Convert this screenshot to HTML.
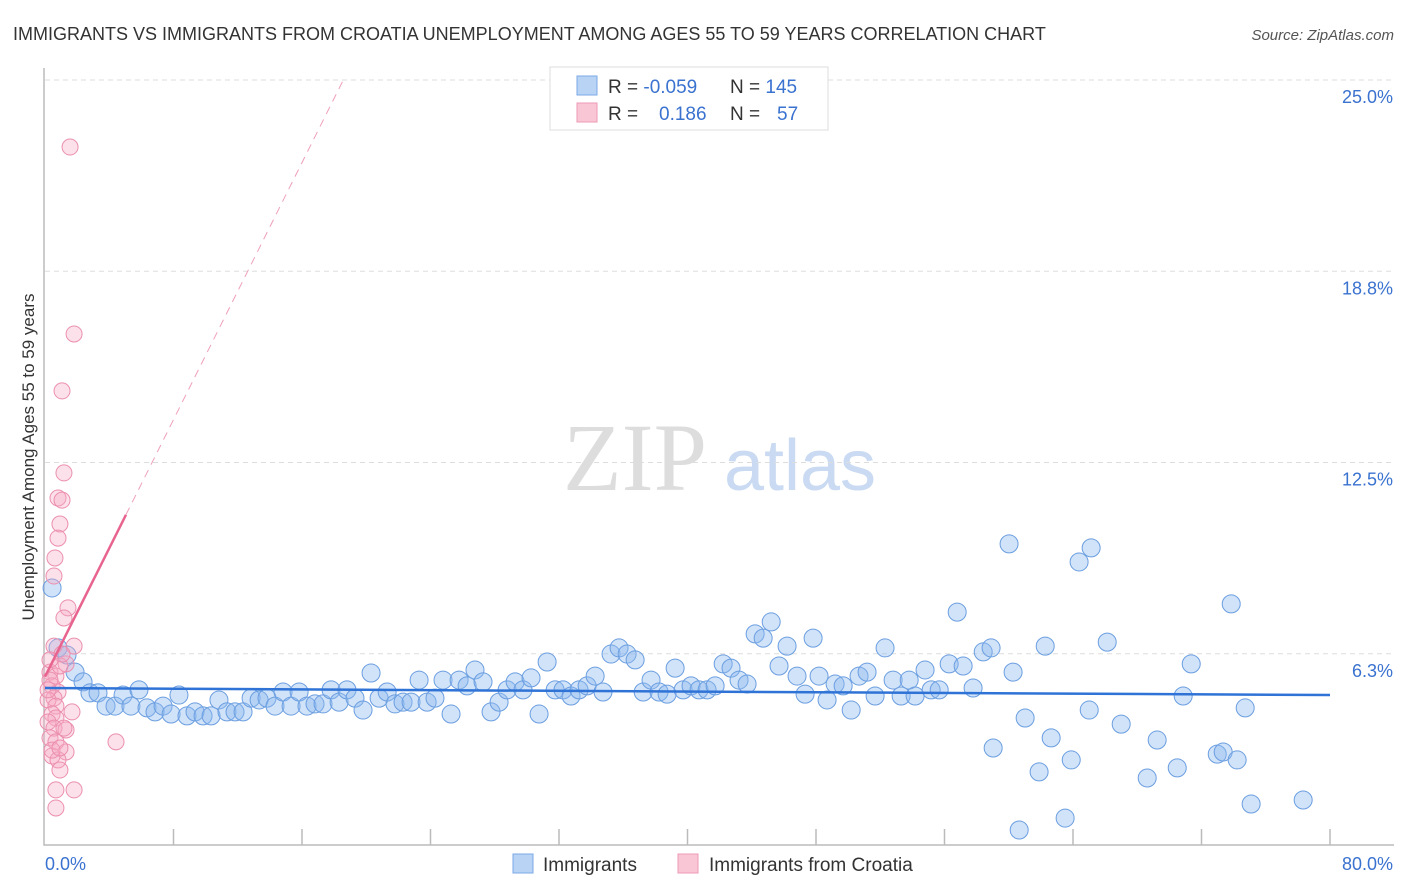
<!DOCTYPE html>
<html><head><meta charset="utf-8"><style>
body{margin:0;background:#fff;font-family:"Liberation Sans",sans-serif;}
svg{display:block}
</style></head><body>
<svg id="chart" width="1406" height="892" xmlns="http://www.w3.org/2000/svg">
<text x="13" y="40" font-size="18" fill="#333">IMMIGRANTS VS IMMIGRANTS FROM CROATIA UNEMPLOYMENT AMONG AGES 55 TO 59 YEARS CORRELATION CHART</text>
<text x="1394" y="40" font-size="15" font-style="italic" fill="#555" text-anchor="end">Source: ZipAtlas.com</text>
<g>
<text x="635" y="490" font-size="96" font-family="Liberation Serif,serif" fill="#ddd" text-anchor="middle">ZIP</text>
<text x="800" y="490" font-size="72" fill="#c9daf2" text-anchor="middle">atlas</text>
</g>
<g id="grid"></g>
<g id="axes"></g>
<g id="pts"></g>
<g id="trend"></g>
<text transform="translate(34,457) rotate(-90)" font-size="17" fill="#333" text-anchor="middle">Unemployment Among Ages 55 to 59 years</text>
<g>
<rect x="550" y="67" width="278" height="63" fill="#fff" stroke="#ddd"/>
<rect x="577" y="76" width="20" height="19" fill="#b9d3f5" stroke="#7aaae6"/>
<rect x="577" y="103" width="20" height="19" fill="#f9c6d6" stroke="#ee9ab4"/>
<text x="608" y="93" font-size="19" fill="#333">R = <tspan fill="#3a72d0">-0.059</tspan></text>
<text x="730" y="93" font-size="19" fill="#333">N = <tspan fill="#3a72d0">145</tspan></text>
<text x="608" y="120" font-size="19" fill="#333">R = <tspan fill="#3a72d0" x="659">0.186</tspan></text>
<text x="730" y="120" font-size="19" fill="#333">N = <tspan fill="#3a72d0" x="777">57</tspan></text>
</g>
<g>
<rect x="513" y="854" width="20" height="19" fill="#b9d3f5" stroke="#7aaae6"/>
<text x="543" y="871" font-size="19" fill="#333">Immigrants</text>
<rect x="678" y="854" width="20" height="19" fill="#f9c6d6" stroke="#ee9ab4"/>
<text x="709" y="871" font-size="19" fill="#333">Immigrants from Croatia</text>
</g>
</svg>
<script>
const yTicks=[25.0,18.8,12.5,6.3];
const yTickVals=[25,18.75,12.5,6.25];
const xTickLabels=["0.0%","80.0%"];
const blueX=[0.44,0.81,1.37,1.87,2.37,2.80,3.30,3.80,4.36,4.86,5.35,5.85,6.35,6.85,7.35,7.85,8.34,8.84,9.34,9.84,10.34,10.83,11.33,11.83,12.33,12.83,13.33,13.82,14.32,14.82,15.32,15.82,16.31,16.81,17.31,17.81,18.31,18.80,19.30,19.80,20.30,20.80,21.30,21.79,22.29,22.79,23.29,23.79,24.28,24.78,25.28,25.78,26.28,26.77,27.27,27.77,28.27,28.77,29.27,29.76,30.26,30.76,31.26,31.76,32.25,32.75,33.25,33.75,34.25,34.74,35.24,35.74,36.24,36.74,37.24,37.73,38.23,38.73,39.23,39.73,40.22,40.72,41.22,41.72,42.22,42.71,43.21,43.71,44.21,44.71,45.21,45.70,46.20,46.82,47.32,47.82,48.19,48.69,49.19,49.69,50.19,50.68,51.18,51.68,52.30,52.80,53.30,53.80,54.17,54.79,55.17,55.67,56.29,56.79,57.16,57.78,58.41,58.90,59.03,60.02,60.27,60.65,61.02,61.89,62.27,62.64,63.51,63.89,64.38,65.01,65.13,66.13,67.00,68.62,69.24,70.49,70.86,71.36,72.98,73.35,73.85,74.22,74.72,75.09,78.33];
const blueY=[8.40,6.44,6.21,5.65,5.33,4.97,4.97,4.54,4.54,4.90,4.54,5.07,4.48,4.35,4.54,4.28,4.90,4.22,4.35,4.22,4.22,4.74,4.35,4.35,4.35,4.80,4.74,4.80,4.54,5.00,4.54,5.00,4.54,4.61,4.61,5.07,4.67,5.07,4.80,4.41,5.62,4.80,5.00,4.61,4.67,4.67,5.39,4.67,4.80,5.39,4.28,5.39,5.20,5.72,5.33,4.35,4.67,5.07,5.33,5.07,5.46,4.28,5.98,5.07,5.07,4.87,5.07,5.20,5.52,5.00,6.24,6.44,6.24,6.05,5.00,5.39,5.00,4.93,5.78,5.07,5.20,5.07,5.07,5.20,5.92,5.78,5.39,5.26,6.90,6.76,7.29,5.85,6.50,5.52,4.93,6.76,5.52,4.74,5.26,5.20,4.41,5.52,5.65,4.87,6.44,5.39,4.87,5.39,4.87,5.72,5.07,5.07,5.92,7.61,5.85,5.13,6.31,6.44,3.17,9.84,5.65,0.49,4.15,2.39,6.50,3.50,0.88,2.78,9.25,4.41,9.71,6.63,3.95,2.19,3.43,2.52,4.87,5.92,2.97,3.04,7.88,2.78,4.48,1.34,1.47];
const pinkX=[1.56,1.81,1.06,1.18,0.81,1.06,0.93,0.81,0.62,0.56,1.43,1.18,1.81,0.56,1.31,0.31,0.68,0.44,0.81,0.56,0.19,0.68,1.68,0.44,0.68,0.19,0.56,1.31,0.31,0.68,4.42,1.31,0.44,0.81,0.93,0.68,1.81,0.68,0.31,0.19,0.93,1.06,0.31,1.18,0.44,0.93];
const pinkY=[22.81,16.70,14.84,12.16,11.34,11.27,10.49,10.03,9.38,8.79,7.75,7.42,6.50,6.50,5.92,5.65,5.52,5.20,5.00,4.80,4.74,4.54,4.35,4.28,4.15,4.02,3.82,3.76,3.50,3.37,3.37,3.04,2.91,2.78,2.45,1.80,1.80,1.21,5.39,5.07,5.85,6.24,6.05,3.82,3.10,3.17];
const blueTrend=[5.13,4.90];
const pinkTrend=[5.5,1.05];
const NS="http://www.w3.org/2000/svg";
const X=v=>45+v/80*1285;
const Y=v=>845-v*30.6;
function mk(tag,attrs,parent){const e=document.createElementNS(NS,tag);for(const k in attrs)e.setAttribute(k,attrs[k]);document.getElementById(parent).appendChild(e);return e;}
yTickVals.forEach((v,i)=>{
 const l=mk('line',{x1:45,x2:1394,y1:Y(v),y2:Y(v),stroke:'#ddd','stroke-dasharray':'5,4'},'grid');
 
 
 const t=mk('text',{x:1393,y:Y(v)+23,'font-size':18,fill:'#3a72d0','text-anchor':'end'},'grid');
 t.textContent=yTicks[i].toFixed(1)+'%';
 
 
});
const ax=mk('path',{d:'M44,68V845H1394',fill:'none',stroke:'#bbb','stroke-width':1.5},'axes');


for(let i=1;i<=10;i++){
 const tk=mk('line',{x1:X(i*8),x2:X(i*8),y1:829,y2:845,stroke:'#bbb','stroke-width':1.5},'axes');
 
 
}
const xl0=mk('text',{x:45,y:870,'font-size':18,fill:'#3a72d0'},'axes');
xl0.textContent=xTickLabels[0];


const xl1=mk('text',{x:1393,y:870,'font-size':18,fill:'#3a72d0','text-anchor':'end'},'axes');
xl1.textContent=xTickLabels[1];


blueX.forEach((v,i)=>{
 const c=mk('circle',{cx:X(v),cy:Y(blueY[i]),r:9,fill:'rgba(140,185,240,0.4)',stroke:'#6b9ee0','stroke-width':1},'pts');
 
 
});
pinkX.forEach((v,i)=>{
 const c=mk('circle',{cx:X(v),cy:Y(pinkY[i]),r:8,fill:'rgba(245,170,195,0.35)',stroke:'#eb8fae','stroke-width':1},'pts');
 
 
});
const bt=mk('line',{x1:X(0),y1:Y(blueTrend[0]),x2:X(80),y2:Y(blueTrend[1]),stroke:'#2f73d6','stroke-width':2.5},'trend');


const pf=x=>pinkTrend[0]+pinkTrend[1]*x;
const xs=5.04, xe=(25-pinkTrend[0])/pinkTrend[1];
const ps=mk('line',{x1:X(0),y1:Y(pf(0)),x2:X(xs),y2:Y(pf(xs)),stroke:'#e8648f','stroke-width':2.5},'trend');


const pd=mk('line',{x1:X(xs),y1:Y(pf(xs)),x2:X(xe),y2:Y(pf(xe)),stroke:'#eea0b8','stroke-width':1,'stroke-dasharray':'8,6'},'trend');


</script>
</body></html>
